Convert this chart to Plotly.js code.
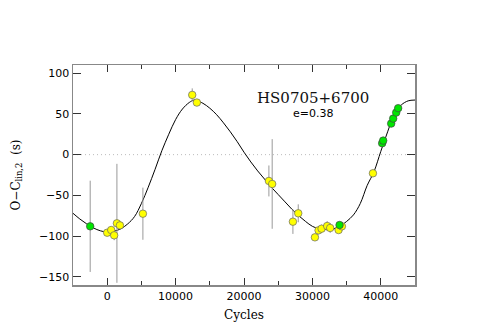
<!DOCTYPE html>
<html>
<head>
<meta charset="utf-8">
<script src="https://cdn.plot.ly/plotly-3.0.1.min.js"></script>
<style>
  body { margin: 0; background: #fff; }
  #grafico { width: 485px; height: 336px; }
</style>
</head>
<body>
<div id="grafico"></div>
<script>
// curva del ajuste
const curvaX = [-5000, -4000, -3000, -2000, -1000, 0, 1000, 2000, 3000, 4000, 5000, 6000, 7000, 8000, 9000,
  10000, 11000, 12000, 12700, 13000, 14000, 15000, 16000, 17000, 18000, 19000, 20000, 21000, 22000, 23000,
  24000, 25000, 26000, 27000, 28000, 29000, 30000, 31000, 32000, 33000, 34000, 35000, 36000, 37000, 38000,
  39000, 40000, 41000, 42000, 43000, 44000, 45000];
const curvaY = [-72, -79, -85, -90, -93.5, -95, -94, -91, -85, -76, -60, -40, -18, 5, 25,
  43, 56, 64, 67, 66.5, 63, 57, 49, 39, 28, 16, 3, -9, -20, -30,
  -40, -49, -58, -67, -75, -82, -88, -91, -92, -91.5, -88, -82, -74, -60, -38,
  -21, 4, 28, 50, 61, 66, 67];

// puntos amarillos
const amarX = [0, 585, 1020, 1420, 1860, 5220, 12430, 13110, 23640, 24120, 27150, 27930,
  30370, 30900, 31340, 32160, 32600, 33830, 34310, 38850];
const amarY = [-95.8, -92.5, -99, -84.3, -86.8, -72.5, 73.3, 63.9, -32.3, -36, -82.3, -72,
  -101.5, -92.9, -90.9, -87.6, -90, -92.5, -88, -22.9];
const amarErr = [3, 3, 6, 73, 5, 32, 8, 4, 19, 55, 15, 11,
  4, 5, 5, 6, 6, 3, 3, 2];

// puntos verdes
const verdeX = [-2485, 33970, 40200, 40350, 41520, 41810, 42250, 42540];
const verdeY = [-88, -86.4, 14, 17.2, 38.1, 44.2, 51.6, 57];
const verdeErr = [56, 2, 2, 2, 2, 2, 2, 2];

// ticks
const xTicks = [0, 10000, 20000, 30000, 40000];
const xTickText = ["0", "10000", "20000", "30000", "40000"];
const yTicks = [-150, -100, -50, 0, 50, 100];
const yTickText = ["\u2212150", "\u2212100", "\u221250", "0", "50", "100"];

const serif = "DejaVu Serif, Liberation Serif, serif";
const sans = "DejaVu Sans, Liberation Sans, sans-serif";

const cero = {
  x: [-5000, 45000], y: [0, 0], mode: "lines", type: "scatter",
  line: { color: "#aaa", width: 0.8, dash: "1px,3px" }, hoverinfo: "skip"
};

const curva = {
  x: curvaX, y: curvaY, mode: "lines", type: "scatter",
  line: { color: "#000", width: 1, shape: "spline", smoothing: 1 }
};

const amarillos = {
  x: amarX, y: amarY, mode: "markers", type: "scatter",
  error_y: { type: "data", array: amarErr, color: "#999", thickness: 1, width: 0 },
  marker: { color: "#ffff00", size: 7.5, line: { color: "#666", width: 0.7 } }
};

const verdes = {
  x: verdeX, y: verdeY, mode: "markers", type: "scatter",
  error_y: { type: "data", array: verdeErr, color: "#999", thickness: 1, width: 0 },
  marker: { color: "#00e600", size: 7.5, line: { color: "#444", width: 0.7 } }
};

Plotly.newPlot("grafico", [cero, curva, amarillos, verdes], {
  width: 485, height: 336,
  margin: { l: 73, r: 70, t: 65, b: 51 },
  showlegend: false,
  paper_bgcolor: "#fff", plot_bgcolor: "#fff",
  xaxis: {
    range: [-5000, 45000], tickmode: "array", tickvals: xTicks, ticktext: xTickText,
    ticks: "inside", ticklen: 7, tickcolor: "#333", tickwidth: 1,
    minor: { dtick: 5000, tick0: 0, ticks: "inside", ticklen: 4, tickcolor: "#333" },
    showline: true, linecolor: "#888", linewidth: 1.5, mirror: "ticks",
    showgrid: false, zeroline: false,
    tickfont: { family: sans, size: 11, color: "#000" },
    title: { text: "Cycles", font: { family: serif, size: 12, color: "#000" }, standoff: 9 }
  },
  yaxis: {
    range: [-160, 110], tickmode: "array", tickvals: yTicks, ticktext: yTickText,
    ticks: "inside", ticklen: 8, tickcolor: "#333", tickwidth: 1,
    showline: true, linecolor: "#888", linewidth: 1.5, mirror: "ticks",
    showgrid: false, zeroline: false,
    tickfont: { family: sans, size: 11, color: "#000" },
    title: { text: "O\u2212C<sub>lin,2</sub>  (s)", font: { family: serif, size: 12, color: "#000" }, standoff: 16 }
  },
  annotations: [
    { x: 30070, y: 70, xref: "x", yref: "y", text: "HS0705+6700", showarrow: false,
      font: { family: serif, size: 15, color: "#111" } },
    { x: 30070, y: 50, xref: "x", yref: "y", text: "e=0.38", showarrow: false,
      font: { family: sans, size: 11, color: "#000" } }
  ]
}, { staticPlot: true });
</script>
</body>
</html>
